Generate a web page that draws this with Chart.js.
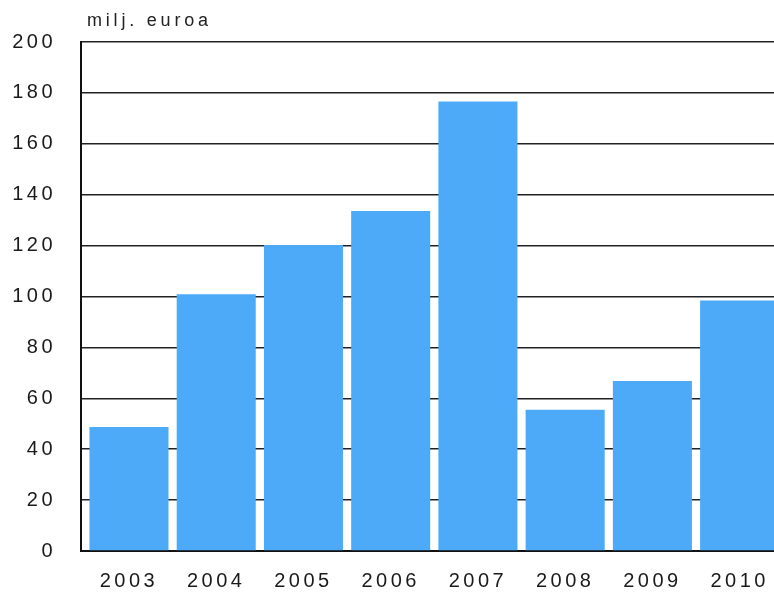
<!DOCTYPE html>
<html>
<head>
<meta charset="utf-8">
<script src="https://cdn.jsdelivr.net/npm/chart.js@4"></script>
<style>
  html, body { margin: 0; padding: 0; background: #fff; overflow: hidden; }
  canvas { display: block; }
</style>
</head>
<body>
<canvas id="investChart" width="774" height="595"></canvas>
<script>
const years = [2003, 2004, 2005, 2006, 2007, 2008, 2009, 2010];
const amounts = [48.7, 100.9, 120.2, 133.6, 176.6, 55.5, 66.8, 98.4];
const unitLabel = 'milj. euroa';

// wide tracking on all canvas text
const spacing = {
    id: 'spacing',
    beforeLayout(chart) { chart.ctx.letterSpacing = '3.5px'; },
    beforeDraw(chart) { chart.ctx.letterSpacing = '3.5px'; }
};

const unitTitle = {
    id: 'unitTitle',
    afterDraw(chart) {
        const ctx = chart.ctx;
        ctx.save();
        ctx.letterSpacing = '3.8px';
        ctx.font = '18px "Liberation Sans", Arial, sans-serif';
        ctx.fillStyle = '#222';
        ctx.textBaseline = 'middle';
        ctx.textAlign = 'left';
        ctx.fillText(unitLabel, 87, 21);
        ctx.restore();
    }
};

const ctx = document.getElementById('investChart').getContext('2d');
new Chart(ctx, {
    type: 'bar',
    data: {
        datasets: [{
            data: years.map((y, i) => ({ x: y, y: amounts[i] })),
            backgroundColor: '#4daaf9',
            borderWidth: 0,
            barPercentage: 0.906,
            categoryPercentage: 1
        }]
    },
    options: {
        responsive: false,
        devicePixelRatio: 1,
        animation: false,
        layout: { padding: { top: 42, left: 0, right: 0, bottom: 0 } },
        plugins: {
            legend: { display: false },
            tooltip: { enabled: false }
        },
        scales: {
            x: {
                type: 'linear',
                offset: false,
                min: 2002.45,
                max: 2010.394,
                afterFit: s => {
                    s.height = 44;
                    s.paddingLeft = 0;
                    s.paddingRight = 0;
                },
                grid: { display: false, drawTicks: false },
                border: { color: '#111', width: 2 },
                ticks: {
                    stepSize: 1,
                    includeBounds: false,
                    padding: 18,
                    color: '#1a1a1a',
                    font: { family: '"Liberation Sans", Arial, sans-serif', size: 20 },
                    callback: v => String(v)
                }
            },
            y: {
                min: 0,
                max: 200,
                afterFit: s => { s.width = 81; },
                grid: { color: '#222', lineWidth: 1.5, drawTicks: false },
                border: { color: '#111', width: 2 },
                ticks: {
                    stepSize: 20,
                    padding: 25,
                    color: '#1a1a1a',
                    font: { family: '"Liberation Sans", Arial, sans-serif', size: 20 }
                }
            }
        }
    },
    plugins: [spacing, unitTitle]
});
</script>
</body>
</html>
